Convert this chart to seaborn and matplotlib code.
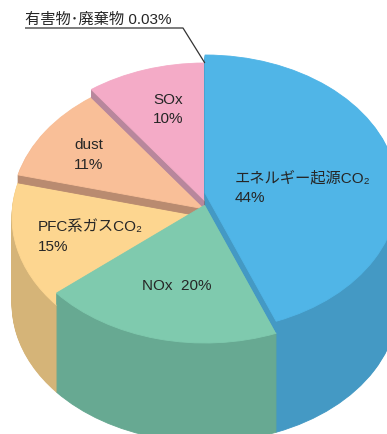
import matplotlib
matplotlib.use("Agg")
import numpy as np
import matplotlib.pyplot as plt
import seaborn as sns

# emission shares (%), clockwise from 12 o'clock
categories = ["エネルギー起源CO₂", "NOx", "PFC系ガスCO₂", "dust", "SOx", "有害物･廃棄物"]
shares = [44, 20, 15, 11, 10, 0.03]
share_labels = ["44%", "20%", "15%", "11%", "10%", "0.03%"]

# palette: top faces and darker side walls
top_colors = ["#50b5e7", "#7fcaae", "#fdd690", "#f9bf98", "#f4abc7", "#8c8c8c"]
side_colors = ["#4499c4", "#67a992", "#d5b478", "#b98b70", "#b8879c", "#6a6a6a"]

sns.set_theme(style="white")
plt.rcParams["font.family"] = ["Liberation Sans", "Noto Sans CJK JP", "DejaVu Sans"]

W, H = 387, 435
CX, CY = 205, 206          # pixel position of the pie centre
RX, RY = 193, 138          # horizontal / vertical radii of the top ellipse
K = RY / RX                # vertical squash of the tilted disc
BASE = 99                  # bottom plane, pixels below the reference top
lift = [-12, 0, 12, 4, -4, -4]   # top-face offset of each slice (pixels, negative = raised)


def ypx(y):
    """pixel row -> data y"""
    return (CY - y) / K


fig = plt.figure(figsize=(W / 100, H / 100), dpi=100)
ax = fig.add_axes([0, 0, 1, 1])

# extrude the pie: stack copies from the bottom plane up to each slice's top
for s in range(BASE, min(lift) - 1, -1):
    cols = []
    for i in range(len(shares)):
        if s < lift[i]:
            cols.append("none")
        elif s == lift[i]:
            cols.append(top_colors[i])
        else:
            cols.append(side_colors[i])
    if all(c == "none" for c in cols):
        continue
    wedges, _ = ax.pie(shares, startangle=90, counterclock=False, radius=RX,
                       center=(CX, -s / K), colors=cols,
                       wedgeprops=dict(linewidth=0.6), frame=True)
    for w, c in zip(wedges, cols):
        if c == "none":
            w.remove()
        else:
            w.set_edgecolor(c)

ax.set_aspect("auto")
ax.set_xlim(0, W)
ax.set_ylim(ypx(H), ypx(0))
ax.set_axis_off()

txt = dict(color="#262626", fontsize=11)

# slice labels
ax.text(235, ypx(178), categories[0], ha="left", va="center", **txt)
ax.text(235, ypx(198), share_labels[0], ha="left", va="center", **txt)
ax.text(177, ypx(286), f"{categories[1]}  {share_labels[1]}", ha="center", va="center", **txt)
ax.text(38, ypx(227), categories[2], ha="left", va="center", **txt)
ax.text(38, ypx(247), share_labels[2], ha="left", va="center", **txt)
ax.text(89, ypx(145), categories[3], ha="center", va="center", **txt)
ax.text(89, ypx(165), share_labels[3], ha="center", va="center", **txt)
ax.text(168, ypx(100), categories[4], ha="center", va="center", **txt)
ax.text(168, ypx(119), share_labels[4], ha="center", va="center", **txt)

# leader for the tiny waste slice, anchored on its rim
total = sum(shares)
mid = np.deg2rad(90 - 360 * (total - shares[5] / 2) / total)
rim_x = CX + RX * np.cos(mid)
rim_y = -lift[5] / K + RX * np.sin(mid)
ax.plot([25, 183, rim_x], [ypx(29), ypx(29), rim_y], color="#333333", lw=0.9,
        solid_capstyle="butt")
ax.text(25, ypx(20), f"{categories[5]} {share_labels[5]}", ha="left", va="center", **txt)

fig.savefig("out.png", dpi=100)
